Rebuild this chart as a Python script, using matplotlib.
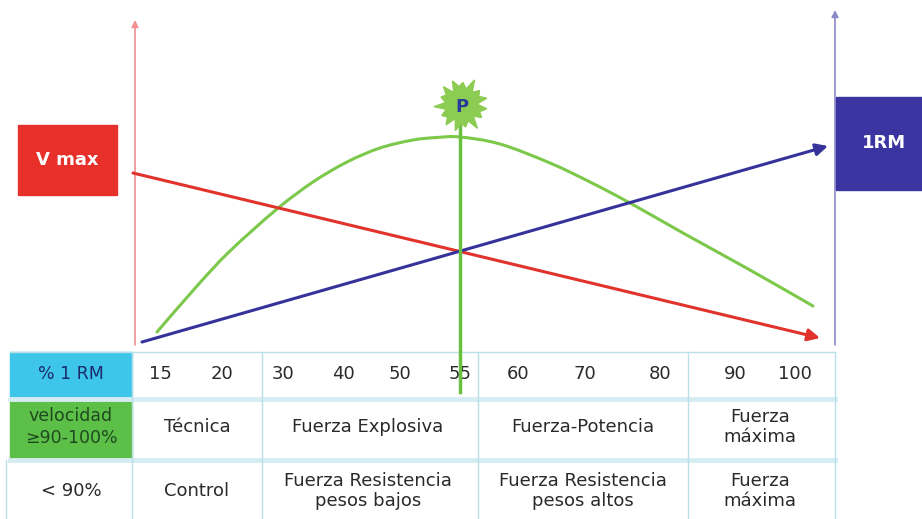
import matplotlib
matplotlib.use("Agg")
import matplotlib.pyplot as plt
import numpy as np
from matplotlib.patches import Rectangle, Polygon, PathPatch
from matplotlib.path import Path

plt.rcParams['font.family'] = ['DejaVu Sans']

# ---- data (diagram units, y grows downward like the picture) ----
vel_line_x = [133, 820]
vel_line_y = [173, 338]
rm_line_x = [142, 828]
rm_line_y = [342, 146]
power_x = [157, 197, 230, 277, 313, 347, 380, 413, 437, 460, 500, 550, 590, 630, 683, 750, 813]
power_y = [332, 286, 251, 209, 182, 162, 148, 140, 137.5, 137, 144, 163, 182, 203, 233, 270, 306]
peak_x = 460

pct_labels = ['15', '20', '30', '40', '50', '55', '60', '70', '80', '90', '100']
pct_pos = [160, 222, 283, 343, 400, 460, 518, 585, 660, 735, 795]

row_heads = ['% 1 RM', 'velocidad\n≥90-100%', '< 90%']
row2_labels = ['Técnica', 'Fuerza Explosiva', 'Fuerza-Potencia', 'Fuerza\nmáxima']
row3_labels = ['Control', 'Fuerza Resistencia\npesos bajos', 'Fuerza Resistencia\npesos altos', 'Fuerza\nmáxima']
col_centers = [197, 368, 583, 760]

W, H = 922, 519
fig = plt.figure(figsize=(W / 100, H / 100), dpi=100)
ax = fig.add_axes([0, 0, 1, 1])
ax.set_xlim(0, W)
ax.set_ylim(H, 0)
ax.axis('off')

RED = '#e2322c'
BLUE = '#35329a'
GREEN = '#7cc84a'
GRID = '#b9e0e8'


def smooth_path(xs, ys):
    """Catmull-Rom through the read points, drawn as cubic Bezier segments."""
    p = np.c_[xs, ys].astype(float)
    verts = [p[0]]
    codes = [Path.MOVETO]
    for i in range(len(p) - 1):
        p0 = p[i - 1] if i > 0 else p[i]
        p1, p2 = p[i], p[i + 1]
        p3 = p[i + 2] if i + 2 < len(p) else p[i + 1]
        c1 = p1 + (p2 - p0) / 6.0
        c2 = p2 - (p3 - p1) / 6.0
        verts += [c1, c2, p2]
        codes += [Path.CURVE4] * 3
    return Path(verts, codes)


# ---- axes arrows ----
ax.annotate('', xy=(135, 20), xytext=(135, 345),
            arrowprops=dict(arrowstyle='-|>', color='#f09090', lw=1.2, mutation_scale=10, shrinkA=0, shrinkB=0))
ax.annotate('', xy=(835, 10), xytext=(835, 345),
            arrowprops=dict(arrowstyle='-|>', color='#8a8ac8', lw=1.2, mutation_scale=10, shrinkA=0, shrinkB=0))

# ---- boxes ----
ax.add_patch(Rectangle((18, 125), 99, 70, color='#e8302a', zorder=3))
ax.text(67, 160, 'V max', color='white', fontsize=13, fontweight='bold', ha='center', va='center', zorder=4)
ax.add_patch(Rectangle((836, 97), 86, 93, color='#3a35a0', zorder=3))
ax.text(884, 143, '1RM', color='white', fontsize=13, fontweight='bold', ha='center', va='center', zorder=4)

# ---- curves ----
ax.add_patch(PathPatch(smooth_path(power_x, power_y), facecolor='none', edgecolor=GREEN,
                       lw=2.2, capstyle='round', zorder=5))
ax.annotate('', xy=(vel_line_x[1], vel_line_y[1]), xytext=(vel_line_x[0], vel_line_y[0]),
            arrowprops=dict(arrowstyle='-|>', color=RED, lw=2.2, mutation_scale=18, shrinkA=0, shrinkB=0), zorder=6)
ax.annotate('', xy=(rm_line_x[1], rm_line_y[1]), xytext=(rm_line_x[0], rm_line_y[0]),
            arrowprops=dict(arrowstyle='-|>', color=BLUE, lw=2.2, mutation_scale=18, shrinkA=0, shrinkB=0), zorder=6)

# ---- star "P" ----
cx, cy = 462, 105
n = 15
k = np.arange(2 * n)
ang = np.linspace(0, 2 * np.pi, 2 * n, endpoint=False) + 0.15
rad = np.where(k % 2 == 0, 25, 17) * (1 + 0.12 * np.sin(k * 1.9))
pts = np.c_[cx + rad * np.cos(ang), cy + rad * np.sin(ang)]
ax.add_patch(Polygon(pts, closed=True, color='#8ccc52', zorder=7))
ax.text(cx, cy + 2, 'P', color='#2a3a9a', fontsize=13, fontweight='bold', ha='center', va='center', zorder=8)

# ---- table ----
ax.add_patch(Rectangle((10, 352), 122, 45, color='#3ec6ea', zorder=1))
ax.add_patch(Rectangle((10, 400), 122, 58, color='#5cbf48', zorder=1))

ax.plot([10, 835], [352, 352], color=GRID, lw=1, zorder=2)
ax.plot([10, 835], [398.5, 398.5], color='#d5edf2', lw=3.5, zorder=2)
ax.plot([10, 835], [460, 460], color='#d5edf2', lw=3.5, zorder=2)
for xv in [132, 262, 478, 688, 835]:
    ax.plot([xv, xv], [352, 519], color=GRID, lw=1, zorder=2)
ax.plot([6, 6], [460, 519], color=GRID, lw=1, zorder=2)

TXT = '#2a2a2a'
FS = 13
ax.text(71, 374, row_heads[0], fontsize=12.5, color='#1a2a6a', ha='center', va='center', zorder=3)
ax.text(71, 427, row_heads[1], fontsize=12.5, color='#1f4a1f', ha='center', va='center', linespacing=1.25, zorder=3)
ax.text(71, 491, row_heads[2], fontsize=FS, color=TXT, ha='center', va='center', zorder=3)

for lab, xp in zip(pct_labels, pct_pos):
    ax.text(xp, 374, lab, fontsize=FS, color=TXT, ha='center', va='center', zorder=3)
for lab, xp in zip(row2_labels, col_centers):
    ax.text(xp, 427, lab, fontsize=FS, color=TXT, ha='center', va='center', linespacing=1.2, zorder=3)
for lab, xp in zip(row3_labels, col_centers):
    ax.text(xp, 491, lab, fontsize=FS, color=TXT, ha='center', va='center', linespacing=1.2, zorder=3)

# vertical line at peak (drawn over the table)
ax.plot([peak_x, peak_x], [122, 392], color='#6cc040', lw=2.5, zorder=6)

fig.savefig('out.png', dpi=100)
